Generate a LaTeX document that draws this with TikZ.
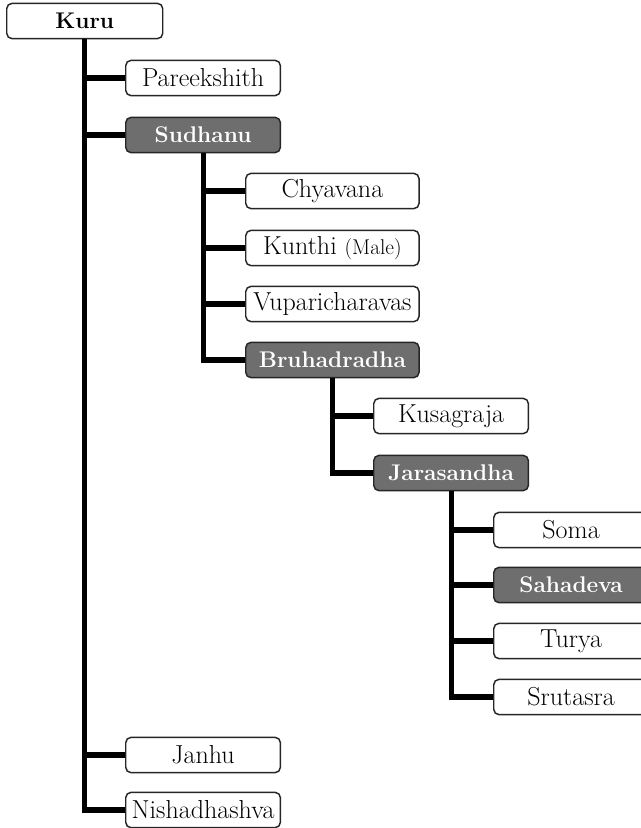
\documentclass[tikz,border=0pt]{standalone}
\definecolor{heirgray}{HTML}{6E6E6E}
\begin{document}
\begin{tikzpicture}[x=0.75pt,y=-0.75pt]
	\tikzset{
		member/.style={draw=black!85,line width=1.1pt,rounded corners=4pt,fill=white,
			minimum height=26.5pt,inner sep=0pt,anchor=west,font=\fontsize{19.5}{22}\selectfont},
		heir/.style={member,fill=heirgray,text=white,font=\fontsize{17}{20}\selectfont\bfseries},
		link/.style={line width=3.8pt},
	}
	\clip (0,0) rectangle (641,828);
	
	% generation 0 and 1
	\node[member,minimum width=117pt,font=\fontsize{17}{20}\selectfont\bfseries] (kuru) at (6,21) {Kuru};
	\node[member,minimum width=116pt] (pareekshith) at (125,78) {Pareekshith};
	\node[heir,minimum width=116pt] (sudhanu) at (125,135) {Sudhanu};
	\node[member,minimum width=116pt] (janhu) at (125,755) {Janhu};
	\node[member,minimum width=116pt] (nishadhashva) at (125,810) {Nishadhashva};
	
	% generation 2
	\node[member,minimum width=130pt] (chyavana) at (245,191) {Chyavana};
	\node[member,minimum width=130pt] (kunthi) at (245,248) {Kunthi {\fontsize{16}{18}\selectfont (Male)}};
	\node[member,minimum width=130pt] (vuparicharavas) at (245,304) {Vuparicharavas};
	\node[heir,minimum width=130pt] (bruhadradha) at (245,360) {Bruhadradha};
	
	% generation 3
	\node[member,minimum width=116pt] (kusagraja) at (373,416) {Kusagraja};
	\node[heir,minimum width=116pt] (jarasandha) at (373,473) {Jarasandha};
	
	% generation 4
	\node[member,minimum width=116pt] (soma) at (493,530) {Soma};
	\node[heir,minimum width=116pt] (sahadeva) at (493,585) {Sahadeva};
	\node[member,minimum width=116pt] (turya) at (493,641) {Turya};
	\node[member,minimum width=116pt] (srutasra) at (493,697) {Srutasra};
	
	
	\foreach \child in {pareekshith,sudhanu,janhu,nishadhashva}
	\draw[link] (kuru.south) |- (\child.west);
	\foreach \child in {chyavana,kunthi,vuparicharavas,bruhadradha}
	\draw[link] (sudhanu.south) |- (\child.west);
	\foreach \child in {kusagraja,jarasandha}
	\draw[link] (bruhadradha.south) |- (\child.west);
	\foreach \child in {soma,sahadeva,turya,srutasra}
	\draw[link] (jarasandha.south) |- (\child.west);
	
\end{tikzpicture}
\end{document}
